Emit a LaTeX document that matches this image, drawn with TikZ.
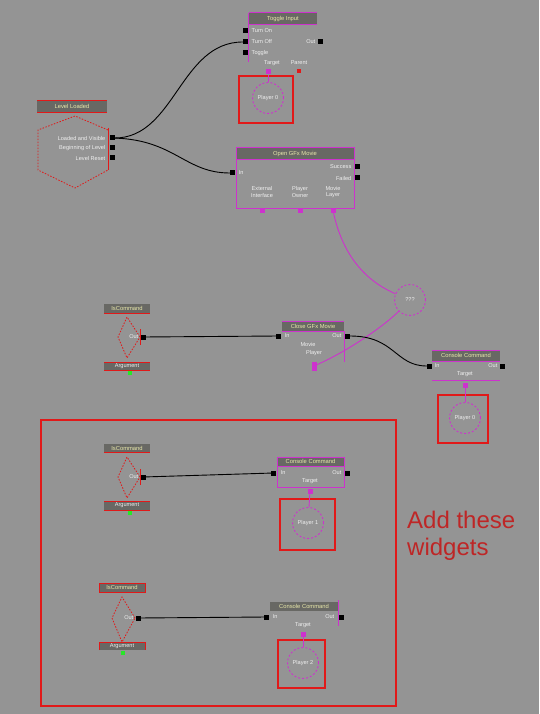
\documentclass[tikz,border=0pt]{standalone}
\usepackage{fontspec}
\setmainfont{Liberation Sans}
\definecolor{bgc}{RGB}{148,148,148}
\definecolor{tbar}{RGB}{104,104,100}
\definecolor{ttext}{RGB}{232,232,170}
\definecolor{mag}{RGB}{205,50,205}
\definecolor{rd}{RGB}{225,25,25}
\definecolor{dred}{RGB}{190,38,38}
\definecolor{grn}{RGB}{40,230,40}
\definecolor{lbltext}{RGB}{240,240,240}
\begin{document}
\begin{tikzpicture}[x=1pt,y=-1pt,
  titlebox/.style={fill=tbar},
  ttl/.style={text=ttext,font=\fontsize{5.8}{6}\selectfont,inner sep=0},
  lbl/.style={text=lbltext,font=\fontsize{5.6}{6.2}\selectfont,inner sep=0.5pt},
  port/.style={fill=black,inner sep=0,minimum size=5pt,draw=none},
  mport/.style={fill=mag,inner sep=0,minimum size=5pt,draw=none},
  gport/.style={fill=grn,inner sep=0,minimum size=4pt,draw=none},
  rport/.style={fill=rd,inner sep=0,minimum size=4pt,draw=none},
  entity/.style={circle,draw=mag,dash pattern=on 2pt off 2pt,line width=0.9pt,minimum size=31pt,inner sep=0,text=lbltext,font=\fontsize{5.6}{6}\selectfont},
  redbox/.style={draw=rd,line width=1.8pt},
  wire/.style={black,line width=0.9pt},
  mwire/.style={mag,line width=0.9pt},
  magline/.style={mag,line width=1pt},
  redline/.style={rd,line width=0.9pt},
  reddot/.style={rd,line width=0.8pt,dash pattern=on 1.5pt off 1.5pt}
]
\fill[bgc] (0,0) rectangle (539,714);
\useasboundingbox (0,0) rectangle (539,714);

% ---------------- Toggle Input ----------------
\fill[titlebox] (249,13) rectangle (317,25);
\draw[magline] (249,13) -- (317,13);
\draw[magline] (249,25) -- (317,25);
\node[ttl] (ti-title) at (283,19) {Toggle Input};
\draw[magline] (248,13) -- (248,62);
\node[port] (ti-on) at (245.5,31) {};
\node[port] (ti-off) at (245.5,42) {};
\node[port] (ti-tog) at (245.5,53) {};
\node[lbl,anchor=west] at (251,31) {Turn On};
\node[lbl,anchor=west] at (251,42) {Turn Off};
\node[lbl,anchor=west] at (251,53) {Toggle};
\node[lbl,anchor=east] at (316,42) {Out};
\node[port] (ti-out) at (320.5,42) {};
\node[lbl] at (272,63) {Target};
\node[lbl] at (299,63) {Parent};
\node[mport] (ti-tgt) at (268,72) {};
\node[rport] (ti-par) at (299,71) {};
\draw[redbox] (239,76) rectangle (293,123);
\node[entity] (ti-p0) at (268,98) {Player 0};
\draw[mwire] (ti-tgt) -- (ti-p0);

% ---------------- Level Loaded ----------------
\fill[titlebox] (37,100) rectangle (107,112);
\draw[redline] (37,100) -- (107,100);
\draw[redline] (37,112) -- (107,112);
\node[ttl] (ll-title) at (72,106) {Level Loaded};
\draw[reddot] (108,130) -- (75,116) -- (38,130) -- (38,170) -- (75,188) -- (108,170);
\draw[redline] (108,128) -- (108,170);
\node[lbl,anchor=east] at (106,138) {Loaded and Visible};
\node[lbl,anchor=east] at (106,148) {Beginning of Level};
\node[lbl,anchor=east] at (106,158) {Level Reset};
\node[port] (ll-o1) at (112,138) {};
\node[port] (ll-o2) at (112,148) {};
\node[port] (ll-o3) at (112,158) {};

% ---------------- Open GFx Movie ----------------
\fill[titlebox] (236,148) rectangle (354,160);
\draw[magline] (236,148) rectangle (354,208);
\draw[magline] (236,160) -- (354,160);
\node[ttl] (ou-title) at (295,154) {Open GFx Movie};
\node[port] (ou-in) at (232.5,173) {};
\node[lbl,anchor=west] at (238,173) {In};
\node[lbl,anchor=east] at (352,167) {Success};
\node[lbl,anchor=east] at (352,178) {Failed};
\node[port] (ou-suc) at (357.5,167) {};
\node[port] (ou-fail) at (357.5,178) {};
\node[lbl,align=center] at (262,192) {External\\Interface};
\node[lbl,align=center] at (300,192) {Player\\Owner};
\node[lbl,align=center] at (333,192) {Movie\\Layer};
\node[mport] (ou-ext) at (262,210.5) {};
\node[mport] (ou-own) at (300,210.5) {};
\node[mport] (ou-lay) at (333,210.5) {};

\draw[wire] (ll-o1) .. controls (175,138) and (180,42) .. (ti-off);
\draw[wire] (ll-o1) .. controls (175,140) and (185,173) .. (ou-in);

% ---------------- ??? object ----------------
\node[entity] (qq) at (410,300) {???};
\draw[mwire] (ou-lay) .. controls (345,265) and (375,285) .. (qq);

% ---------------- IsCommand 1 ----------------
\fill[titlebox] (104,304) rectangle (150,313);
\draw[redline] (104,313) -- (150,313);
\node[ttl] (ic1-title) at (127,308.5) {IsCommand};
\draw[reddot] (140,337) -- (127,317) -- (118,337) -- (127,358) -- (140,337);
\draw[redline] (140,329) -- (140,345);
\node[lbl,anchor=east] at (139,337) {Out};
\node[port] (ic1-out) at (143,337) {};
\fill[titlebox] (104,362) rectangle (150,370);
\draw[redline] (104,362) -- (150,362);
\draw[redline] (104,370) -- (150,370);
\node[lbl] (ic1-arg) at (127,366) {Argument};
\node[gport] (ic1-g) at (130,373) {};

% ---------------- Close GFx Movie ----------------
\fill[titlebox] (282,321) rectangle (344,331);
\draw[magline] (282,321) -- (344,321);
\draw[magline] (282,331) -- (344,331);
\draw[magline] (344,331) -- (344,362);
\node[ttl] (cg-title) at (313,326) {Close GFx Movie};
\node[port] (cg-in) at (278.5,336) {};
\node[lbl,anchor=west] at (284,336) {In};
\node[lbl,anchor=east] at (342,336) {Out};
\node[port] (cg-out) at (347.5,336) {};
\node[lbl] at (308,344) {Movie};
\node[lbl] at (314,353) {Player};
\node[mport,minimum height=9pt] (cg-ply) at (314,366) {};
\draw[mwire] (qq) .. controls (385,325) and (350,350) .. (cg-ply);
\draw[wire] (ic1-out) -- (cg-in);

% ---------------- Console Command 1 ----------------
\fill[titlebox] (432,350) rectangle (500,361);
\draw[magline] (432,350) -- (500,350);
\draw[magline] (432,361) -- (500,361);
\draw[magline] (432,380) -- (500,380);
\node[ttl] (cc1-title) at (466,355.5) {Console Command};
\node[port] (cc1-in) at (429.5,366) {};
\node[lbl,anchor=west] at (434,366) {In};
\node[lbl,anchor=east] at (498,366) {Out};
\node[port] (cc1-out) at (502.5,366) {};
\node[lbl] at (465,374) {Target};
\node[mport] (cc1-tgt) at (465,385) {};
\draw[redbox] (438,395) rectangle (488,443);
\node[entity] (cc1-p) at (465,418) {Player 0};
\draw[mwire] (cc1-tgt) -- (cc1-p);
\draw[wire] (cg-out) .. controls (395,336) and (395,366) .. (cc1-in);

% ---------------- bottom box ----------------
\draw[redbox] (41,420) rectangle (396,706);

% IsCommand 2
\fill[titlebox] (104,444) rectangle (150,452);
\draw[redline] (104,452) -- (150,452);
\node[ttl] (ic2-title) at (127,448) {IsCommand};
\draw[reddot] (140,477) -- (127,457) -- (118,477) -- (127,498) -- (140,477);
\draw[redline] (140,469) -- (140,485);
\node[lbl,anchor=east] at (139,477) {Out};
\node[port] (ic2-out) at (143,477) {};
\fill[titlebox] (104,501) rectangle (150,510);
\draw[redline] (104,501) -- (150,501);
\draw[redline] (104,510) -- (150,510);
\node[lbl] (ic2-arg) at (127,505.5) {Argument};
\node[gport] (ic2-g) at (130,513) {};

% Console Command 2
\fill[titlebox] (277,457) rectangle (344,466);
\draw[magline] (277,457) rectangle (344,487);
\draw[magline] (277,466) -- (344,466);
\node[ttl] (cc2-title) at (310.5,461.5) {Console Command};
\node[port] (cc2-in) at (273.5,473) {};
\node[lbl,anchor=west] at (280,473) {In};
\node[lbl,anchor=east] at (342,473) {Out};
\node[port] (cc2-out) at (347.5,473) {};
\node[lbl] at (310,481) {Target};
\node[mport] (cc2-tgt) at (310,491) {};
\draw[redbox] (280,499) rectangle (335,550);
\node[entity] (cc2-p) at (308,523) {Player 1};
\draw[mwire] (cc2-tgt) -- (cc2-p);
\draw[wire] (ic2-out) -- (cc2-in);

% IsCommand 3
\fill[titlebox] (99,583) rectangle (145,592);
\draw[redline] (99,583) rectangle (145,592);
\node[ttl] (ic3-title) at (122,587.5) {IsCommand};
\draw[reddot] (135,618) -- (122,597) -- (112,618) -- (122,642) -- (135,618);
\node[lbl,anchor=east] at (134,618) {Out};
\node[port] (ic3-out) at (138,618) {};
\fill[titlebox] (99,642) rectangle (145,650);
\draw[redline] (99,650) -- (99,642) -- (145,642) -- (145,650);
\node[lbl] (ic3-arg) at (122,646) {Argument};
\node[gport] (ic3-g) at (123,653) {};

% Console Command 3
\fill[titlebox] (270,602) rectangle (338,611);
\draw[magline] (338,600) -- (338,626);
\node[ttl] (cc3-title) at (304,606.5) {Console Command};
\node[port] (cc3-in) at (266.5,617) {};
\node[lbl,anchor=west] at (272,617) {In};
\node[lbl,anchor=east] at (335,617) {Out};
\node[port] (cc3-out) at (341,617) {};
\node[lbl] at (303,625) {Target};
\node[mport] (cc3-tgt) at (303,634) {};
\draw[redbox] (278,640) rectangle (325,688);
\node[entity] (cc3-p) at (303,663) {Player 2};
\draw[mwire] (cc3-tgt) -- (cc3-p);
\draw[wire] (ic3-out) -- (cc3-in);

% ---------------- caption ----------------
\node[anchor=north west,align=left,text=dred,font=\fontsize{24}{27}\selectfont,inner sep=0] (cap) at (407,511) {Add these\\widgets};
\end{tikzpicture}
\end{document}
